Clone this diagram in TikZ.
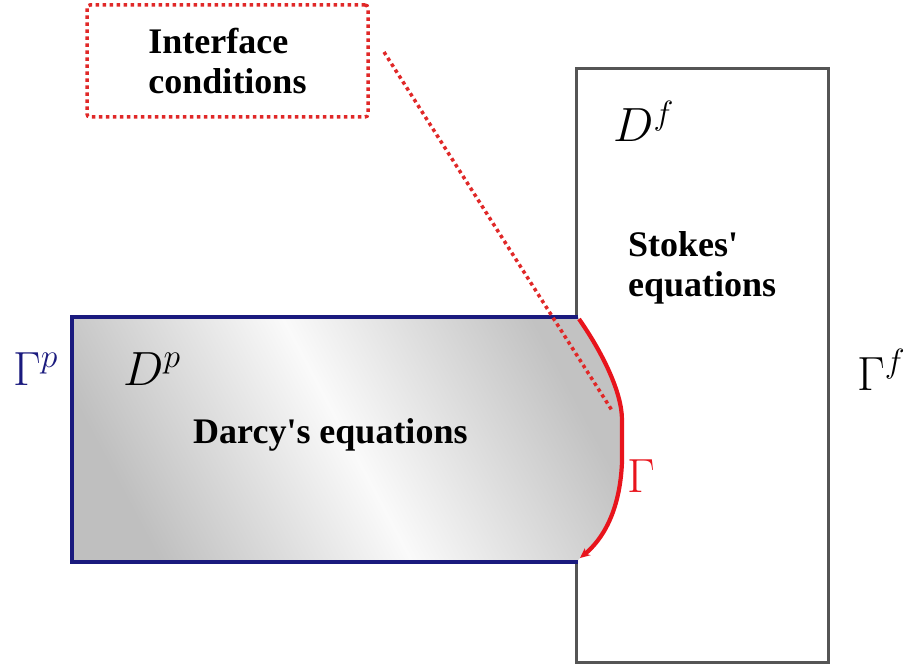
\RequirePackage{fix-cm}
\documentclass[tikz,border=0pt]{standalone}
\usepackage{fontspec}
\newfontfamily\tnr{Liberation Serif}
\usetikzlibrary{arrows.meta}
\definecolor{navy}{HTML}{1A1A7E}
\definecolor{redc}{HTML}{E8141C}
\definecolor{dotred}{HTML}{E02828}
\definecolor{boxgrey}{HTML}{555555}
\tikzset{
  bigmath/.style={inner sep=0pt, font=\fontsize{48}{48}\selectfont},
  boldtxt/.style={inner sep=0pt, font=\tnr\bfseries\fontsize{36}{40}\selectfont},
  reddots/.style={draw=dotred, line width=3.5pt, line cap=butt, dash pattern=on 3.5pt off 3.5pt},
}
\begin{document}
\begin{tikzpicture}[x=1pt,y=-1pt]
\useasboundingbox (0,0) rectangle (906,666);
% Stokes domain
\draw[boxgrey, line width=3pt] (576,69) rectangle (828,662);
% Darcy domain fill
\shade[left color=black!25, right color=black!24, middle color=black!2, shading angle=118]
  (72,317) -- (578,317) .. controls (602,352) and (622,392) .. (622,420)
  -- (622,462) .. controls (620,512) and (602,540) .. (578,560) -- (578,562) -- (72,562) -- cycle;
\draw[navy, line width=3.4pt] (578,317) -- (72,317) -- (72,562) -- (578,562);
% interface curve
\draw[redc, line width=4.2pt, -{Stealth[length=10pt,width=9pt]}]
  (579,319) .. controls (602,352) and (622,392) .. (622,420)
  -- (622,462) .. controls (620,512) and (602,540) .. (580,558);
% labels
\node[bigmath, anchor=base west, text=navy] (gp) at (13,385) {$\Gamma^p$};
\node[bigmath, anchor=base west] (dp) at (123,385) {$D^p$};
\node[bigmath, anchor=base west] (df) at (613,142) {$D^f$};
\node[bigmath, anchor=base west] (gf) at (857,390) {$\Gamma^f$};
\node[bigmath, anchor=base west, text=redc] (g) at (627,492) {$\Gamma$};
\node[boldtxt, anchor=base west] (darcy) at (193,443) {Darcy's equations};
\node[boldtxt, anchor=north west, align=left] (stokes) at (628,231) {Stokes'\\equations};
% interface conditions box
\node[boldtxt, reddots, rounded corners=3pt, minimum width=281pt, minimum height=112pt, align=left]
  (ibox) at (227.5,61) {Interface\\conditions};
\coordinate (lstart) at (384,52);
\coordinate (lend) at (613,412);
\draw[reddots] (lstart) -- (lend);
\end{tikzpicture}
\end{document}
